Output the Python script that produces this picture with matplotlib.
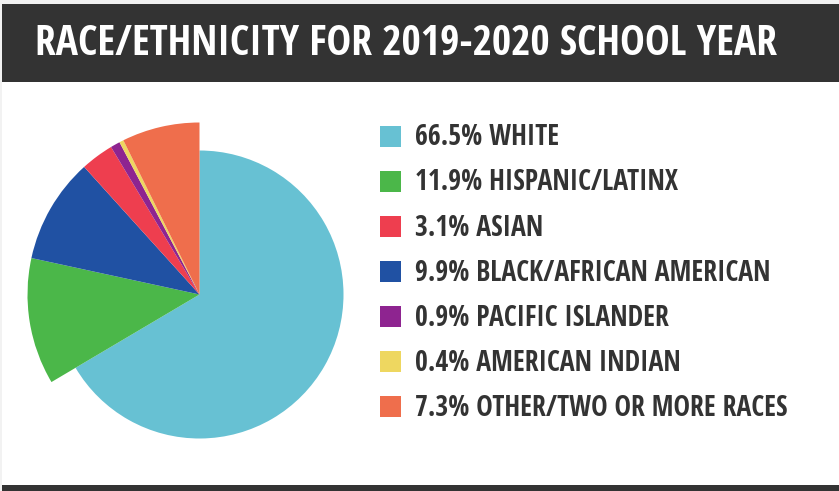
import matplotlib
matplotlib.use("Agg")
import matplotlib.pyplot as plt
from matplotlib import font_manager
from matplotlib.patches import Rectangle

# data, in the order the slices go clockwise from 12 o'clock
groups = ["WHITE", "HISPANIC/LATINX", "BLACK/AFRICAN AMERICAN", "ASIAN",
          "PACIFIC ISLANDER", "AMERICAN INDIAN", "OTHER/TWO OR MORE RACES"]
shares = [66.5, 11.9, 9.9, 3.1, 0.9, 0.4, 7.3]
colors = ["#67c1d3", "#4bb749", "#2051a3", "#ee3e4f", "#8e2490", "#eed760", "#ef6e4c"]

# legend order
legend_order = ["WHITE", "HISPANIC/LATINX", "ASIAN", "BLACK/AFRICAN AMERICAN",
                "PACIFIC ISLANDER", "AMERICAN INDIAN", "OTHER/TWO OR MORE RACES"]

title = "RACE/ETHNICITY FOR 2019-2020 SCHOOL YEAR"

W, H = 839, 491


def pick_family():
    # prefer a narrow bold face if one is installed
    for fam in ["Open Sans Condensed", "Liberation Sans Narrow", "Roboto Condensed",
                "DejaVu Sans Condensed", "Open Sans"]:
        try:
            font_manager.findfont(font_manager.FontProperties(family=fam, weight="bold"),
                                  fallback_to_default=False)
            return fam
        except ValueError:
            continue
    return "DejaVu Sans"


FAM = pick_family()

fig = plt.figure(figsize=(W / 100, H / 100), dpi=100)
ax = fig.add_axes([0, 0, 1, 1])
ax.set_xlim(0, W)
ax.set_ylim(0, H)
renderer = fig.canvas.get_renderer()


def py(y):
    # top-down pixel y to axes y
    return H - y


def fit_size(txt, size, width, cap):
    # scale the font so the label spans the same width as in the reference
    t = ax.text(0, 0, txt, fontsize=size, fontweight="bold", family=FAM)
    w = t.get_window_extent(renderer).width
    t.remove()
    return min(size * width / w, cap)


# page background and bars
ax.add_patch(Rectangle((0, 0), W, H, facecolor="#f2f2f2", edgecolor="none", zorder=0))
ax.add_patch(Rectangle((2, py(485)), W - 2, 485 - 82, facecolor="white", edgecolor="none", zorder=0))
ax.add_patch(Rectangle((2, py(82)), W - 2, 78, facecolor="#333333", edgecolor="none", zorder=1))
ax.add_patch(Rectangle((2, 0), W - 2, 6, facecolor="#333333", edgecolor="none", zorder=1))

ax.text(35, py(55), title, color="white", fontsize=fit_size(title, 23, 747, 30),
        fontweight="bold", family=FAM, va="baseline", ha="left", zorder=2)

# pie: white slice drawn smaller than the rest
wedges, _ = ax.pie(shares, colors=colors, startangle=90, counterclock=False,
                   radius=172, center=(199.5, py(294.5)), frame=True,
                   wedgeprops=dict(linewidth=0))
wedges[0].set_radius(144)
for w in wedges:
    w.set_zorder(3)

# legend
labels = [f"{shares[groups.index(n)]}% {n}" for n in legend_order]
leg_size = fit_size(labels[-1], 19, 372, 22)
for i, name in enumerate(legend_order):
    k = groups.index(name)
    yc = 136.3 + i * 45.1
    ax.add_patch(Rectangle((380, py(yc + 10.5)), 21, 21, facecolor=colors[k],
                           edgecolor="none", zorder=3))
    ax.text(415, py(yc + 9), labels[i], color="#333333",
            fontsize=leg_size, fontweight="bold", family=FAM, va="baseline",
            ha="left", zorder=3)

ax.set_xlim(0, W)
ax.set_ylim(0, H)
ax.set_aspect("auto")
ax.axis("off")

fig.savefig("out.png", dpi=100)
